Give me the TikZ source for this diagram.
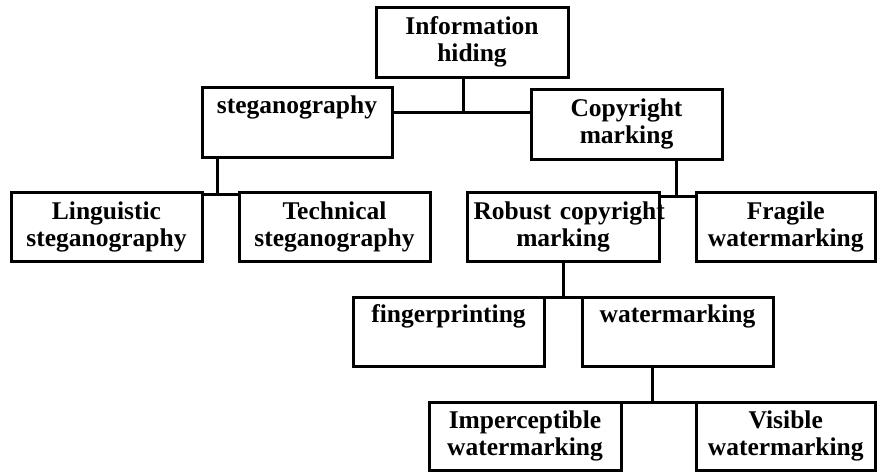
\documentclass[tikz,border=0pt]{standalone}
\usepackage{fontspec}
\setmainfont{Liberation Serif}
\begin{document}
\begin{tikzpicture}[x=1pt,y=-1pt,
  box/.style={draw, line width=3pt, inner sep=0pt, text width=179pt, align=center,
    font=\bfseries\fontsize{25.5}{27}\selectfont},
  link/.style={line width=3pt}]
\useasboundingbox (0,0) rectangle (877,472);
\node[box, minimum width=192pt, minimum height=70pt] (ih) at (472,42) {Information\\hiding};
\node[box, minimum width=190pt, minimum height=70pt] (stg) at (297,122) {steganography\\\strut};
\node[box, minimum width=191pt, minimum height=70pt] (cm) at (626.5,124) {Copyright\\marking};
\node[box, minimum width=191pt, minimum height=69pt] (ling) at (106.5,226.5) {Linguistic\\steganography};
\node[box, minimum width=191pt, minimum height=69pt] (tech) at (334.5,226.5) {Technical\\steganography};
\node[box, minimum width=192pt, minimum height=69pt] (rob) at (563,226.5) {\mbox{Robust copyright}\\marking};
\node[box, minimum width=179.5pt, minimum height=69pt] (frag) at (785.75,226.5) {Fragile\\watermarking};
\node[box, minimum width=191pt, minimum height=69pt] (fp) at (448.5,331.5) {fingerprinting\\\strut};
\node[box, minimum width=191pt, minimum height=69pt] (wm) at (677.5,331.5) {watermarking\\\strut};
\node[box, minimum width=192pt, minimum height=68pt] (imp) at (525,436) {Imperceptible\\watermarking};
\node[box, minimum width=179.5pt, minimum height=68pt] (vis) at (785.75,436) {Visible\\watermarking};
\coordinate (j1) at (463,112);
\coordinate (j2) at (217,194);
\coordinate (j3) at (676,196);
\coordinate (j4) at (563,297);
\coordinate (j5) at (652,402);
\draw[link] (ih.south -| j1) -- (j1);
\draw[link] (stg.east |- j1) -- (cm.west |- j1);
\draw[link] (stg.south -| j2) -- (j2);
\draw[link] (ling.east |- j2) -- (tech.west |- j2);
\draw[link] (cm.south -| j3) -- (j3);
\draw[link] (rob.east |- j3) -- (frag.west |- j3);
\draw[link] (rob.south -| j4) -- (j4);
\draw[link] (fp.east |- j4) -- (wm.west |- j4);
\draw[link] (wm.south -| j5) -- (j5);
\draw[link] (imp.east |- j5) -- (vis.west |- j5);
\end{tikzpicture}
\end{document}
